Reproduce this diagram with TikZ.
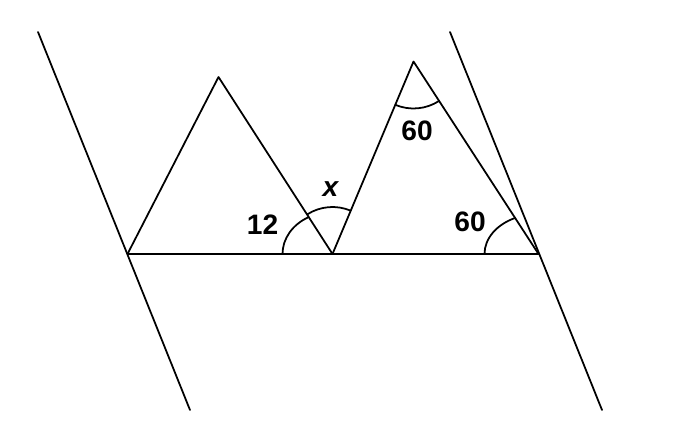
\documentclass[tikz,border=0pt]{standalone}
\usepackage{fontspec}
\setmainfont{Liberation Sans}
\begin{document}
\begin{tikzpicture}[line width=1pt, line join=round, line cap=round, font=\fontsize{16}{19}\selectfont\bfseries]
	\useasboundingbox (0,0) rectangle (13.46,8.54);
	\coordinate (A) at (2.55,3.46);
	\coordinate (B) at (4.37,7.00);
	\coordinate (C) at (6.65,3.46);
	\coordinate (D) at (8.27,7.31);
	\coordinate (E) at (10.77,3.46);
	% the two parallels
	\coordinate (P1) at (0.76,7.90); \coordinate (P2) at (3.80,0.34);
	\coordinate (Q1) at (9.00,7.90); \coordinate (Q2) at (12.04,0.34);
	\draw (P1)--(P2);
	\draw (Q1)--(Q2);
	\draw (A)--(E);
	\draw (A)--(B)--(C);
	\draw (C)--(D)--(E);
	% angle marks
	\draw (C) ++(180:1 and 0.84) arc[start angle=180, end angle=118.4, x radius=1, y radius=0.84];
	\draw (C) ++(67.2:0.94) arc[start angle=67.2, end angle=122.8, radius=0.94];
	\draw (D) ++(247.2:0.94) arc[start angle=247.2, end angle=303.1, radius=0.94];
	\draw (E) ++(180:1.08 and 0.8) arc[start angle=180, end angle=115.7, x radius=1.08, y radius=0.8];
	\node (a12) at (5.25,4.04) {12};
	\node (ax) at (6.61,4.75) {\itshape x};
	\node (aD) at (8.34,5.92) {60};
	\node (aE) at (9.40,4.10) {60};
\end{tikzpicture}
\end{document}
